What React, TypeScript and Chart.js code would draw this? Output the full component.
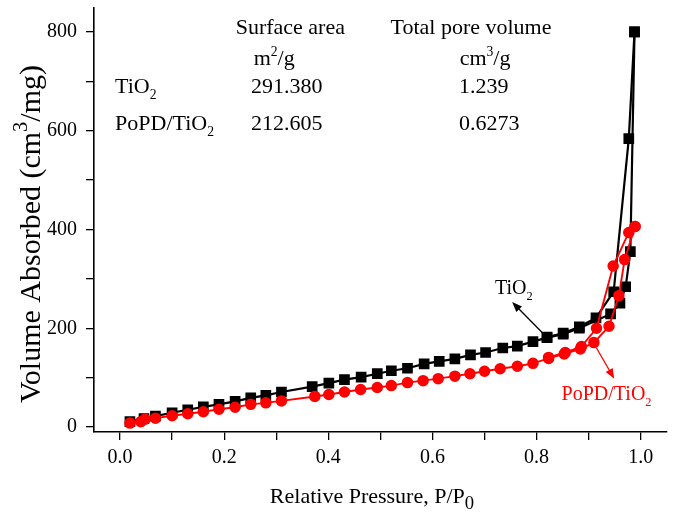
import { useEffect, useRef } from 'react';
import { Chart, registerables } from 'chart.js';

Chart.register(...registerables);

const FONT = '"Liberation Serif", "Times New Roman", serif';

// ---- Data ----
const tio2AdsX = [0.019, 0.046, 0.068, 0.100, 0.130, 0.160, 0.190, 0.221, 0.251, 0.280, 0.310, 0.369, 0.401, 0.431, 0.463, 0.494, 0.521, 0.552, 0.584, 0.613, 0.643, 0.673, 0.702, 0.735, 0.763, 0.793, 0.820, 0.851, 0.882, 0.942, 0.960, 0.971, 0.980, 0.988];
const tio2AdsY = [11, 17, 22, 29, 35, 41, 46, 52, 59, 64, 71, 82, 89, 96, 101, 108, 114, 119, 128, 133, 138, 146, 151, 160, 164, 173, 181, 188, 200, 229, 251, 284, 355, 800];
const tio2DesX = [0.988, 0.977, 0.948, 0.914, 0.882, 0.851, 0.820];
const tio2DesY = [800, 584, 274, 221, 203, 190, 182];

const popdAdsX = [0.019, 0.040, 0.048, 0.068, 0.100, 0.130, 0.160, 0.190, 0.221, 0.251, 0.280, 0.310, 0.374, 0.401, 0.431, 0.462, 0.494, 0.521, 0.552, 0.582, 0.611, 0.643, 0.672, 0.700, 0.730, 0.763, 0.793, 0.823, 0.853, 0.884, 0.910, 0.939, 0.958, 0.969, 0.989];
const popdAdsY = [8, 11, 16, 18, 23, 27, 31, 36, 40, 46, 49, 53, 62, 66, 71, 76, 80, 84, 90, 94, 98, 103, 108, 113, 118, 123, 129, 139, 148, 158, 171, 204, 266, 339, 406];
const popdDesX = [0.989, 0.977, 0.947, 0.915, 0.886, 0.855, 0.823];
const popdDesY = [406, 394, 326, 200, 163, 151, 141];

const xTicks = [0, 0.1, 0.2, 0.3, 0.4, 0.5, 0.6, 0.7, 0.8, 0.9, 1.0];
const xMajor = [0, 0.2, 0.4, 0.6, 0.8, 1.0];
const yTicks = [0, 100, 200, 300, 400, 500, 600, 700, 800];
const yMajor = [0, 200, 400, 600, 800];

const tableHeaders = ['Surface area', 'Total pore volume'];
const tableSamples = ['TiO2', 'PoPD/TiO2'];
const surfaceAreas = ['291.380', '212.605'];
const poreVolumes = ['1.239', '0.6273'];

type Seg = { t: string; k?: 'sup' | 'sub' };

function subscriptDigits(s: string): Seg[] {
  const out: Seg[] = [];
  const m = s.match(/^(.*O)(2)$/);
  if (m) {
    out.push({ t: m[1] });
    out.push({ t: m[2], k: 'sub' });
  } else out.push({ t: s });
  return out;
}

function drawRich(
  ctx: CanvasRenderingContext2D,
  segs: Seg[],
  x: number,
  y: number,
  size: number,
  color: string,
  align: 'left' | 'center',
  small = 0.62,
  rise = 0.42,
  drop = 0.3
) {
  ctx.save();
  ctx.fillStyle = color;
  ctx.textBaseline = 'alphabetic';
  ctx.textAlign = 'left';
  const widths = segs.map((s) => {
    ctx.font = `${s.k ? size * small : size}px ${FONT}`;
    return ctx.measureText(s.t).width;
  });
  const total = widths.reduce((a, b) => a + b, 0);
  let cx = align === 'center' ? x - total / 2 : x;
  segs.forEach((s, i) => {
    ctx.font = `${s.k ? size * small : size}px ${FONT}`;
    const dy = s.k === 'sup' ? -size * rise : s.k === 'sub' ? size * drop : 0;
    ctx.fillText(s.t, cx, y + dy);
    cx += widths[i];
  });
  ctx.restore();
}

function arrow(ctx: CanvasRenderingContext2D, x1: number, y1: number, x2: number, y2: number, color: string) {
  const ang = Math.atan2(y2 - y1, x2 - x1);
  const hl = 10;
  const hw = 4;
  ctx.save();
  ctx.strokeStyle = color;
  ctx.fillStyle = color;
  ctx.lineWidth = 1.3;
  ctx.beginPath();
  ctx.moveTo(x1, y1);
  ctx.lineTo(x2 - Math.cos(ang) * hl * 0.8, y2 - Math.sin(ang) * hl * 0.8);
  ctx.stroke();
  ctx.beginPath();
  ctx.moveTo(x2, y2);
  ctx.lineTo(x2 - Math.cos(ang) * hl - Math.sin(ang) * hw, y2 - Math.sin(ang) * hl + Math.cos(ang) * hw);
  ctx.lineTo(x2 - Math.cos(ang) * hl + Math.sin(ang) * hw, y2 - Math.sin(ang) * hl - Math.cos(ang) * hw);
  ctx.closePath();
  ctx.fill();
  ctx.restore();
}

const annotations = {
  id: 'annotations',
  afterDraw(chart: any) {
    const ctx = chart.ctx as CanvasRenderingContext2D;
    const xs = chart.scales.x;
    const ys = chart.scales.y;
    const X = (v: number) => xs.getPixelForValue(v);
    const Y = (v: number) => ys.getPixelForValue(v);

    // table
    const ts = 22;
    drawRich(ctx, [{ t: tableHeaders[0] }], X(0.327), Y(795), ts, '#000', 'center');
    drawRich(ctx, [{ t: tableHeaders[1] }], X(0.674), Y(795), ts, '#000', 'center');
    drawRich(ctx, [{ t: 'm' }, { t: '2', k: 'sup' }, { t: '/g' }], X(0.296), Y(733), ts, '#000', 'center');
    drawRich(ctx, [{ t: 'cm' }, { t: '3', k: 'sup' }, { t: '/g' }], X(0.701), Y(733), ts, '#000', 'center');
    const rowY = [677, 602];
    tableSamples.forEach((s, i) => {
      drawRich(ctx, subscriptDigits(s), X(-0.0096), Y(rowY[i]), ts, '#000', 'left');
      drawRich(ctx, [{ t: surfaceAreas[i] }], X(0.32), Y(rowY[i]), ts, '#000', 'center');
      drawRich(ctx, [{ t: poreVolumes[i] }], X(0.651), Y(rowY[i]), ts, '#000', 'left');
    });

    // series labels + arrows
    drawRich(ctx, subscriptDigits('TiO2'), X(0.72), Y(270), 20, '#000', 'left');
    arrow(ctx, X(0.811), Y(191), X(0.753), Y(253), '#000');
    drawRich(ctx, subscriptDigits('PoPD/TiO2'), X(0.848), Y(55), 20, '#ff0000', 'left');
    arrow(ctx, X(0.915), Y(160), X(0.949), Y(98), '#ff0000');

    // axis titles
    drawRich(
      ctx,
      [{ t: 'Relative Pressure, P/P' }, { t: '0', k: 'sub' }],
      372,
      503,
      22,
      '#000',
      'center',
      0.85,
      0,
      0.28
    );
    ctx.save();
    ctx.translate(40, 234);
    ctx.rotate(-Math.PI / 2);
    drawRich(
      ctx,
      [{ t: 'Volume Absorbed (cm' }, { t: '3', k: 'sup' }, { t: '/mg)' }],
      0,
      0,
      30,
      '#000',
      'center',
      0.68,
      0.42,
      0
    );
    ctx.restore();
  },
};

function pts(xs: number[], ys: number[]) {
  return xs.map((x, i) => ({ x, y: ys[i] }));
}

export default function App() {
  const ref = useRef<HTMLCanvasElement>(null);

  useEffect(() => {
    document.body.style.margin = '0';
    const canvas = ref.current!;
    const black = { borderColor: '#000', backgroundColor: '#000', pointBackgroundColor: '#000', pointBorderColor: '#000', pointStyle: 'rect', pointRadius: 6, borderWidth: 2.2 };
    const red = { borderColor: '#ff0000', backgroundColor: '#ff0000', pointBackgroundColor: '#ff0000', pointBorderColor: '#ff0000', pointStyle: 'circle', pointRadius: 4.8, borderWidth: 1.9 };
    const chart = new Chart(canvas, {
      type: 'line',
      data: {
        datasets: [
          { label: 'TiO2 ads', data: pts(tio2AdsX, tio2AdsY), ...black, order: 2 } as any,
          { label: 'TiO2 des', data: pts(tio2DesX, tio2DesY), ...black, order: 2 } as any,
          { label: 'PoPD/TiO2 ads', data: pts(popdAdsX, popdAdsY), ...red, order: 1 } as any,
          { label: 'PoPD/TiO2 des', data: pts(popdDesX, popdDesY), ...red, order: 1 } as any,
        ],
      },
      options: {
        responsive: false,
        animation: false,
        devicePixelRatio: 1,
        layout: { padding: { top: 2, right: 4, left: 0, bottom: 0 } },
        plugins: { legend: { display: false }, tooltip: { enabled: false } },
        elements: { line: { tension: 0 } },
        scales: {
          x: {
            type: 'linear',
            position: 'bottom',
            min: -0.05,
            max: 1.05,
            afterBuildTicks: (s: any) => {
              s.ticks = xTicks.map((v) => ({ value: v }));
            },
            afterFit: (s: any) => {
              s.height = 81;
              s.paddingLeft = 0;
              s.paddingRight = 0;
            },
            ticks: {
              autoSkip: false,
              maxRotation: 0,
              color: '#000',
              padding: 6,
              font: { family: FONT, size: 20 },
              callback: (v: any) => (xMajor.some((m) => Math.abs(m - v) < 1e-6) ? Number(v).toFixed(1) : ''),
            },
            grid: { display: true, drawOnChartArea: false, drawTicks: true, tickLength: 8, color: '#000', lineWidth: 1.3 },
            border: { display: true, color: '#000', width: 1.6 },
          },
          y: {
            type: 'linear',
            min: -10,
            max: 848,
            afterBuildTicks: (s: any) => {
              s.ticks = yTicks.map((v) => ({ value: v }));
            },
            afterFit: (s: any) => {
              s.width = 94;
              s.paddingTop = 0;
              s.paddingBottom = 0;
            },
            ticks: {
              autoSkip: false,
              color: '#000',
              padding: 9,
              font: { family: FONT, size: 20 },
              callback: (v: any) => (yMajor.includes(Number(v)) ? String(v) : ''),
            },
            grid: { display: true, drawOnChartArea: false, drawTicks: true, tickLength: 8, color: '#000', lineWidth: 1.3 },
            border: { display: true, color: '#000', width: 1.6 },
          },
        },
      },
      plugins: [annotations],
    });
    return () => chart.destroy();
  }, []);

  return (
    <div style={{ width: 675, height: 513, background: '#fff' }}>
      <canvas ref={ref} width={675} height={513} />
    </div>
  );
}
